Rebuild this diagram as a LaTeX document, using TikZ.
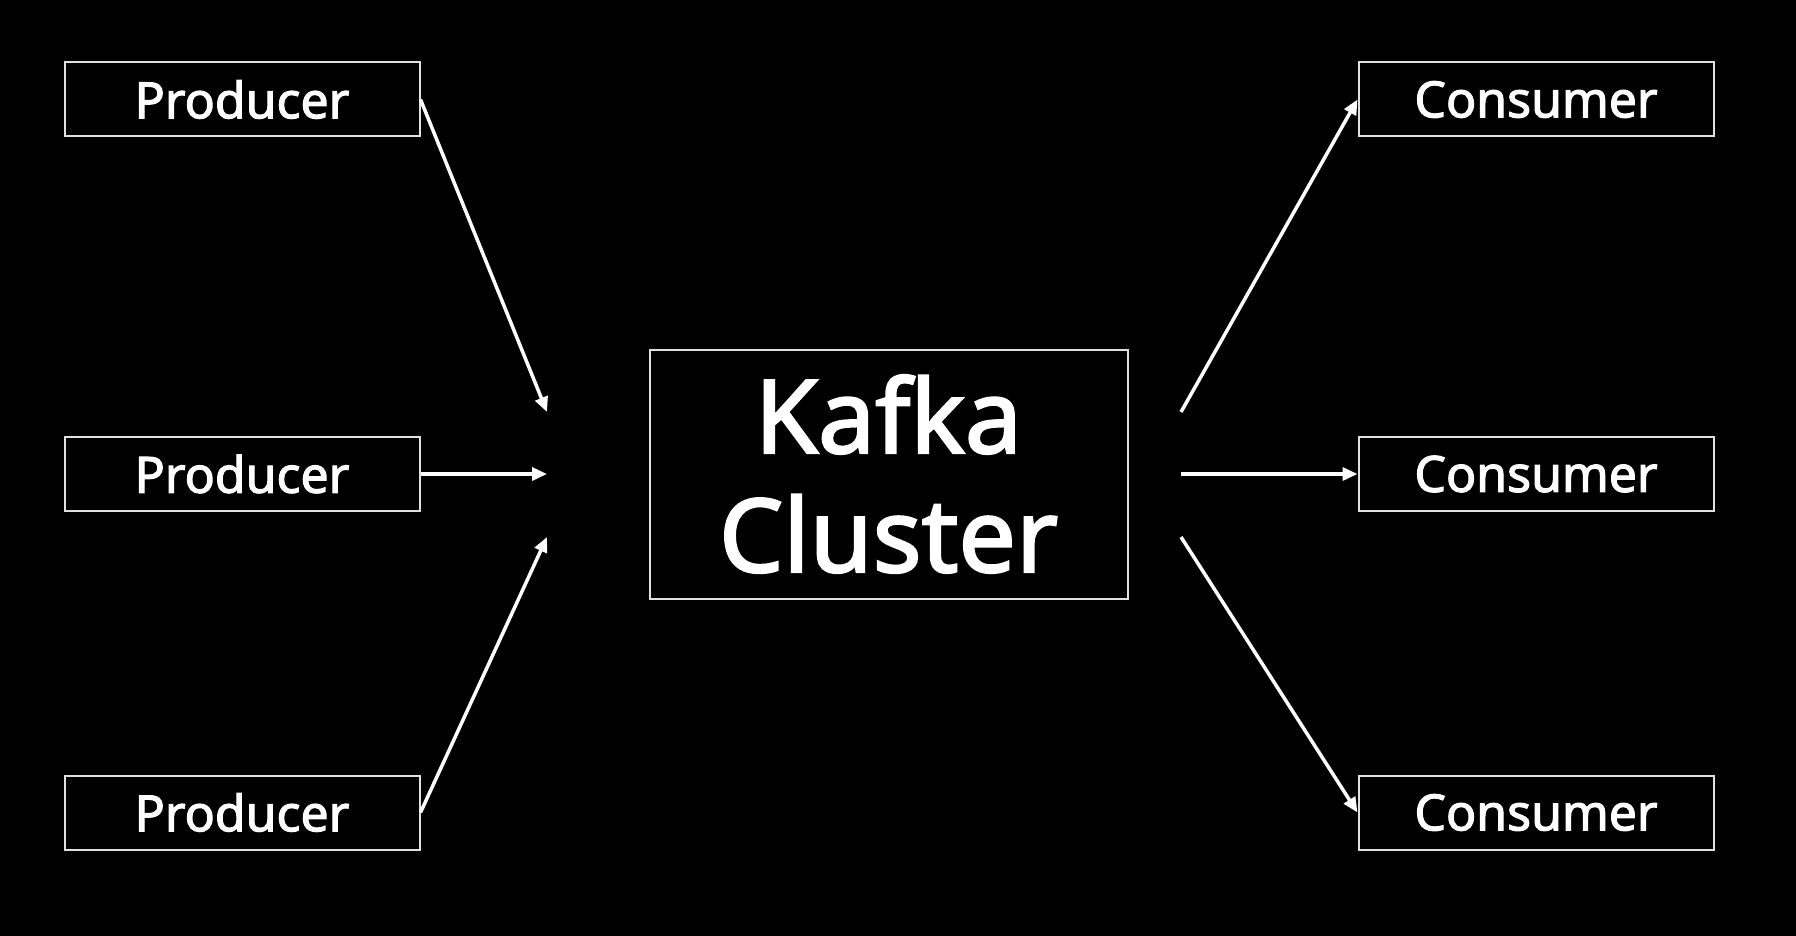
\documentclass[tikz,border=0pt]{standalone}
\usepackage{fontspec}
\setmainfont{Noto Sans}[FakeBold=2.2]
\usetikzlibrary{arrows.meta}
\definecolor{boxline}{HTML}{E0E0E0}
\begin{document}
\begin{tikzpicture}[x=1pt,y=-1pt,
  smallbox/.style={draw=boxline, line width=2pt, rectangle, minimum width=355pt, minimum height=74pt, inner sep=0pt, text=white, font=\fontsize{50}{55}\selectfont\bfseries},
  bigbox/.style={draw=boxline, line width=2pt, rectangle, minimum width=478pt, minimum height=249pt, inner sep=0pt, text=white, align=center, font=\fontsize{102}{119}\selectfont\bfseries},
  conn/.style={draw=white, line width=3.5pt, -{Triangle[length=15pt,width=13pt]}}]
\fill[black] (0,0) rectangle (1796,936);
\useasboundingbox (0,0) rectangle (1796,936);
\node[smallbox] (p1) at (242,99.5) {Producer};
\node[smallbox] (p2) at (242,474) {Producer};
\node[smallbox] (p3) at (242,812.5) {Producer};
\node[smallbox] (c1) at (1536,99.5) {Consumer};
\node[smallbox] (c2) at (1536,474) {Consumer};
\node[smallbox] (c3) at (1536,812.5) {Consumer};
\node[bigbox] (k) at (888.5,474) {Kafka\\Cluster};
\coordinate (in1) at (547,412);
\coordinate (in2) at (547,474);
\coordinate (in3) at (547,537);
\coordinate (out1) at (1181,412);
\coordinate (out2) at (1181,474);
\coordinate (out3) at (1181,537);
\draw[conn] (p1.east) -- (in1);
\draw[conn] (p2.east) -- (in2);
\draw[conn] (p3.east) -- (in3);
\draw[conn] (out1) -- (c1.west);
\draw[conn] (out2) -- (c2.west);
\draw[conn] (out3) -- (c3.west);
\end{tikzpicture}
\end{document}
